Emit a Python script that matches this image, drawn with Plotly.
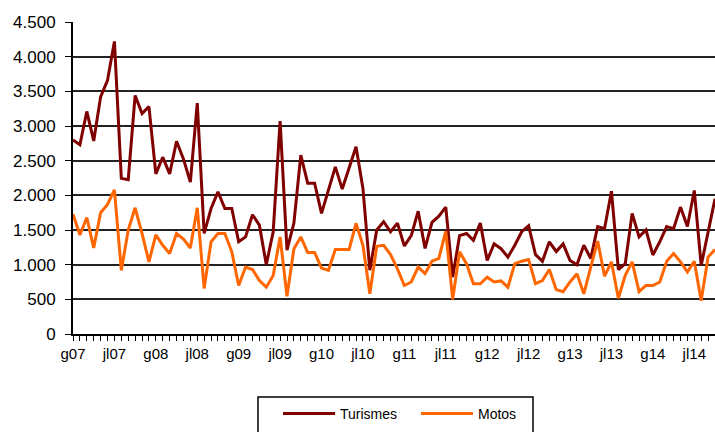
import plotly.graph_objects as go

# Monthly data, Jan 2007 .. Oct 2014
turismes = [2800, 2730, 3210, 2785, 3420, 3660, 4220, 2245, 2225, 3440, 3180, 3280,
            2310, 2550, 2310, 2780, 2525, 2190, 3330, 1450, 1810, 2050, 1810, 1810,
            1330, 1400, 1720, 1570, 1000, 1475, 3070, 1210, 1600, 2580, 2175, 2175,
            1740, 2080, 2410, 2090, 2380, 2700, 2100, 920, 1500, 1620, 1475, 1600,
            1270, 1420, 1770, 1235, 1610, 1700, 1830, 820, 1420, 1450, 1350, 1600,
            1060, 1300, 1230, 1110, 1280, 1475, 1560, 1145, 1050, 1330, 1190, 1300,
            1060, 1000, 1280, 1090, 1550, 1520, 2060, 930, 1015, 1740, 1400, 1500,
            1140, 1330, 1550, 1520, 1830, 1550, 2070, 990, 1470, 1950]
motos = [1726, 1427, 1680, 1242, 1750, 1870, 2078, 917, 1500, 1820, 1450, 1040,
         1430, 1280, 1160, 1450, 1370, 1240, 1820, 657, 1330, 1450, 1450, 1185,
         700, 965, 930, 770, 675, 845, 1400, 545, 1230, 1400, 1175, 1175,
         950, 917, 1220, 1220, 1220, 1597, 1280, 580, 1265, 1280, 1145, 940,
         700, 750, 965, 870, 1050, 1090, 1485, 500, 1185, 1015, 725, 725,
         820, 750, 765, 675, 1015, 1050, 1075, 725, 770, 930, 640, 610,
         750, 870, 580, 965, 1340, 835, 1040, 515, 845, 1040, 610, 700,
         700, 750, 1050, 1160, 1040, 895, 1050, 480, 1110, 1220]
x_labels = ["g07", "jl07", "g08", "jl08", "g09", "jl09", "g10", "jl10",
            "g11", "jl11", "g12", "jl12", "g13", "jl13", "g14", "jl14"]
y_values = [0, 500, 1000, 1500, 2000, 2500, 3000, 3500, 4000, 4500]
y_labels = ["0", "500", "1.000", "1.500", "2.000", "2.500", "3.000", "3.500", "4.000", "4.500"]

idx = list(range(len(turismes)))
tick_pos = [i * 6 for i in range(len(x_labels))]

font = "Liberation Sans, Arial, sans-serif"

# plot area in pixels (used only to place the legend frame)
L, R, T, B = 73, 715, 22, 334


def px_x(p):
    return (p - L) / (R - L)


def px_y(p):
    return (B - p) / (B - T)


fig = go.Figure()
fig.add_trace(go.Scatter(x=idx, y=turismes, mode="lines", name="Turismes",
                         line=dict(color="#800000", width=3)))
fig.add_trace(go.Scatter(x=idx, y=motos, mode="lines", name="Motos",
                         line=dict(color="#FF6600", width=3)))

fig.update_layout(
    width=715, height=432,
    margin=dict(l=L, r=715 - R, t=T, b=432 - B),
    plot_bgcolor="white", paper_bgcolor="white",
    font=dict(family=font, size=15, color="black"),
    showlegend=True,
    legend=dict(orientation="h", x=px_x(278), xanchor="left", y=px_y(398), yanchor="top",
                borderwidth=0, bgcolor="rgba(0,0,0,0)",
                font=dict(family=font, size=14),
                itemwidth=52, entrywidth=71),
    shapes=[dict(type="rect", xref="paper", yref="paper",
                 x0=px_x(258), x1=px_x(533), y0=px_y(440), y1=px_y(397),
                 line=dict(color="black", width=1.5), fillcolor="rgba(0,0,0,0)")],
)
fig.update_xaxes(range=[0, 93], tickmode="array", tickvals=tick_pos, ticktext=x_labels,
                 showgrid=False, zeroline=False,
                 showline=True, linecolor="black", linewidth=2,
                 ticks="outside", ticklen=5, tickcolor="black", tickwidth=1,
                 minor=dict(dtick=1, ticks="outside", ticklen=5, tickcolor="black", tickwidth=1),
                 tickfont=dict(size=15))
fig.update_yaxes(range=[0, 4500], tickmode="array", tickvals=y_values, ticktext=y_labels,
                 showgrid=True, gridcolor="#222", gridwidth=1.5, zeroline=False,
                 showline=True, linecolor="black", linewidth=2,
                 ticks="outside", ticklen=6, tickcolor="black", tickwidth=1,
                 ticklabelstandoff=6,
                 tickfont=dict(size=17))

fig.write_html("out.html", config={"displayModeBar": False},
               post_script="document.body.style.margin='0';document.body.style.overflow='hidden';")
